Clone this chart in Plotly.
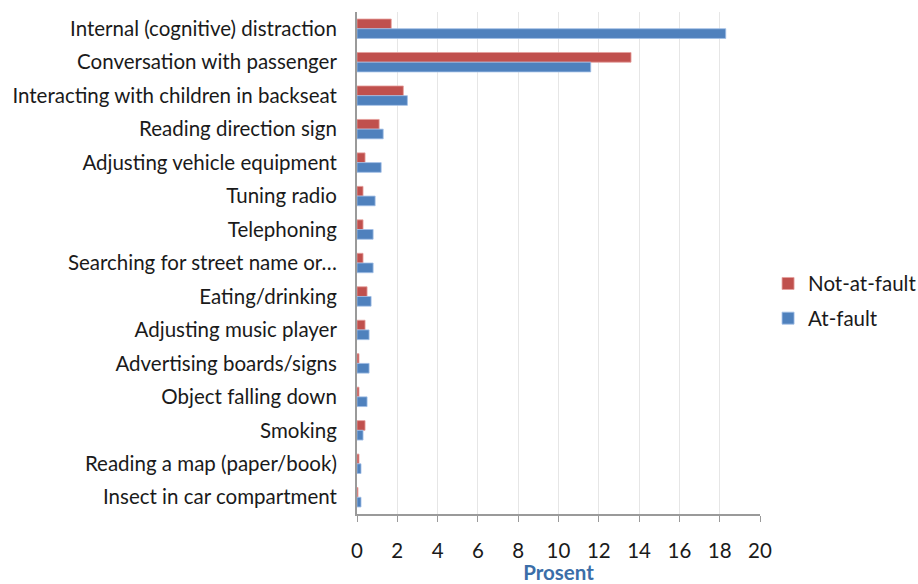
import plotly.graph_objects as go

categories = [
    "Internal (cognitive) distraction",
    "Conversation with passenger",
    "Interacting with children in backseat",
    "Reading direction sign",
    "Adjusting vehicle equipment",
    "Tuning radio",
    "Telephoning",
    "Searching for street name or…",
    "Eating/drinking",
    "Adjusting music player",
    "Advertising boards/signs",
    "Object falling down",
    "Smoking",
    "Reading a map (paper/book)",
    "Insect in car compartment",
]
not_at_fault = [1.7, 13.6, 2.3, 1.1, 0.4, 0.3, 0.3, 0.3, 0.5, 0.4, 0.1, 0.1, 0.4, 0.1, 0.05]
at_fault = [18.3, 11.6, 2.5, 1.3, 1.2, 0.9, 0.8, 0.8, 0.7, 0.6, 0.6, 0.5, 0.3, 0.2, 0.2]
x_ticks = list(range(0, 21, 2))

FONT = "Lato"
FS = 20.5

fig = go.Figure()
fig.add_trace(go.Bar(
    y=categories, x=not_at_fault, orientation="h", name="Not-at-fault",
    legendgroup="a",
    marker=dict(color="#C0504D", line=dict(color="rgba(230,160,158,0.8)", width=1)),
))
fig.add_trace(go.Bar(
    y=categories, x=at_fault, orientation="h", name="At-fault",
    legendgroup="b",
    marker=dict(color="#4F81BD", line=dict(color="rgba(160,190,230,0.8)", width=1)),
))

fig.update_layout(
    width=918, height=584,
    margin=dict(l=357, r=158, t=12, b=70, autoexpand=False),
    paper_bgcolor="white", plot_bgcolor="white",
    barmode="group", bargap=0.42, bargroupgap=0,
    font=dict(family=FONT, size=FS, color="#1a1a1a"),
    legend=dict(x=1.02, y=0.424, yanchor="middle", xanchor="left",
                font=dict(size=FS, color="#1a1a1a"), traceorder="grouped",
                itemwidth=30, tracegroupgap=5),
    xaxis=dict(
        range=[0, 20], tickvals=x_ticks, ticktext=[str(v) for v in x_ticks],
        showgrid=True, gridcolor="#E6E6E6", gridwidth=1,
        showline=True, linecolor="#9A9A9A", linewidth=1.5,
        ticks="outside", tickcolor="#9A9A9A", ticklen=6,
        ticklabelstandoff=12,
        zeroline=False, automargin=False,
        title=dict(text="<b>Prosent</b>", font=dict(size=FS, color="#3B6EA8"), standoff=6),
        tickfont=dict(size=FS),
    ),
    yaxis=dict(
        autorange="reversed", automargin=False,
        showline=True, linecolor="#9A9A9A", linewidth=2,
        ticks="", ticklabelstandoff=14,
        tickfont=dict(size=FS),
    ),
)

fig.write_html("out.html")
